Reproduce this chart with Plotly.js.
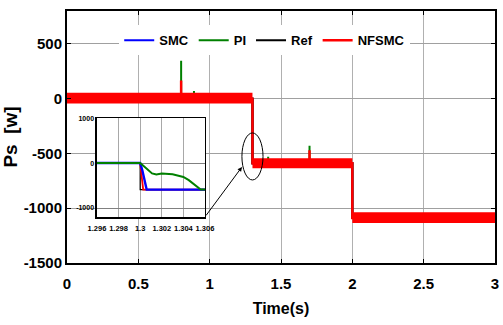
<!DOCTYPE html>
<html><head><meta charset="utf-8">
<script src="https://cdn.plot.ly/plotly-3.0.1.min.js"></script>
<style>html,body{margin:0;padding:0;background:#fff;}#chart{width:503px;height:325px;}</style>
</head><body><div id="chart"></div>
<script>
// ---- main chart data (Time in s, Ps in W) ----
const refT = [0, 1.3, 1.3, 2, 2, 3];
const refP = [0, 0, -590, -590, -1090, -1090];
const smcT = [0, 1.3, 1.3, 2, 2, 3];
const smcP = [0, 0, -590, -590, -1090, -1090];
const piT = [0, 0.8, 0.8, 0.8, 0.89, 0.89, 0.89, 1.3, 1.3, 1.41, 1.41, 1.41, 1.7, 1.7, 1.7, 2, 2, 3];
const piP = [0, 0, 345, 0, 0, 70, 0, 0, -590, -590, -530, -590, -590, -430, -590, -590, -1090, -1090];
const nfT = [0, 0.8, 0.8, 0.8, 1.3, 1.3, 1.7, 1.7, 1.7, 2, 2, 3];
const nfP = [0, 0, 165, 0, 0, -590, -590, -470, -590, -590, -1090, -1090];
// NFSMC ripple envelope
const bandT = [0, 1.3, 1.3, 2, 2, 3];
const bandHi = [55, 55, -545, -545, -1036, -1036];
const bandLo = [-45, -45, -636, -636, -1136, -1136];

// ---- inset (zoom around t = 1.3 s) ----
const insRefT = [1.296, 1.3, 1.3, 1.306];
const insRefP = [0, 0, -590, -590];
const insNfT = [1.296, 1.3, 1.30028, 1.306];
const insNfP = [0, 0, -590, -590];
const insSmcT = [1.296, 1.3, 1.3002, 1.3004, 1.3006, 1.306];
const insSmcP = [0, 0, -160, -390, -590, -590];
const insPiT = [1.296, 1.3, 1.3004, 1.3008, 1.3011, 1.3015, 1.302, 1.303, 1.3035, 1.304, 1.3045, 1.3049, 1.3053, 1.3056, 1.306];
const insPiP = [0, 0, -80, -170, -230, -255, -235, -250, -275, -310, -380, -455, -540, -590, -590];

// ---- tick labels ----
const xTicks = [0, 0.5, 1, 1.5, 2, 2.5, 3];
const xTickText = ['0', '0.5', '1', '1.5', '2', '2.5', '3'];
const yTicks = [-1500, -1000, -500, 0, 500];
const yTickText = ['-1500', '-1000', '-500', '0', '500'];
const insXTicks = [1.296, 1.298, 1.3, 1.302, 1.304, 1.306];
const insXTickText = ['1.296', '1.298', '1.3', '1.302', '1.304', '1.306'];
const insYTicks = [-1000, 0, 1000];
const insYTickText = ['-1000', '0', '1000'];

const seriesNames = ['SMC', 'PI', 'Ref', 'NFSMC'];
const colors = {SMC: '#0000ff', PI: '#008000', Ref: '#000000', NFSMC: '#ff0000'};

const FONT = 'Liberation Sans, Arial, sans-serif';

const data = [
  {x: smcT, y: smcP, name: seriesNames[0], mode: 'lines', line: {color: colors.SMC, width: 2}},
  {x: piT, y: piP, name: seriesNames[1], mode: 'lines', line: {color: colors.PI, width: 2}},
  {x: refT, y: refP, name: seriesNames[2], mode: 'lines', line: {color: colors.Ref, width: 2}},
  {x: bandT, y: bandHi, mode: 'lines', line: {width: 0, color: colors.NFSMC}, showlegend: false, hoverinfo: 'skip'},
  {x: bandT, y: bandLo, mode: 'lines', line: {width: 0, color: colors.NFSMC}, fill: 'tonexty', fillcolor: colors.NFSMC, showlegend: false, hoverinfo: 'skip'},
  {x: nfT, y: nfP, name: seriesNames[3], mode: 'lines', line: {color: colors.NFSMC, width: 2.5}},
  // inset
  {x: insRefT, y: insRefP, xaxis: 'x2', yaxis: 'y2', mode: 'lines', line: {color: colors.Ref, width: 1.2}, showlegend: false},
  {x: insNfT, y: insNfP, xaxis: 'x2', yaxis: 'y2', mode: 'lines', line: {color: colors.NFSMC, width: 1.8}, showlegend: false},
  {x: insSmcT, y: insSmcP, xaxis: 'x2', yaxis: 'y2', mode: 'lines', line: {color: colors.SMC, width: 2.4}, showlegend: false},
  {x: insPiT, y: insPiP, xaxis: 'x2', yaxis: 'y2', mode: 'lines', line: {color: colors.PI, width: 2}, showlegend: false}
];

const tickFont = {family: FONT, size: 15, weight: 'bold', color: '#000'};

const layout = {
  width: 503, height: 325,
  margin: {l: 67, r: 8, t: 11, b: 62},
  paper_bgcolor: '#fff', plot_bgcolor: '#fff',
  showlegend: true,
  legend: {orientation: 'h', x: 0.122, y: 0.884, xanchor: 'left', yanchor: 'middle', bgcolor: '#fff',
           font: {family: FONT, size: 13, weight: 'bold', color: '#000'}, traceorder: 'normal'},
  xaxis: {domain: [0, 1], range: [0, 3], tickvals: xTicks, ticktext: xTickText, ticks: 'inside', ticklen: 4,
          tickcolor: '#000', mirror: 'ticks', showline: true, linecolor: '#000', linewidth: 2,
          showgrid: true, gridcolor: '#b0b0b0', gridwidth: 1, zeroline: false, tickfont: tickFont,
          ticklabelstandoff: 6,
          title: {text: 'Time(s)', font: {family: FONT, size: 16, weight: 'bold', color: '#000'}, standoff: 12}},
  yaxis: {domain: [0, 1], range: [-1500, 800], tickvals: yTicks, ticktext: yTickText, ticks: 'inside', ticklen: 4,
          tickcolor: '#000', mirror: 'ticks', showline: true, linecolor: '#000', linewidth: 2,
          showgrid: true, gridcolor: '#a0a0a0', gridwidth: 1, zeroline: false, tickfont: tickFont,
          title: {text: 'Ps\u00A0\u00A0[w]', font: {family: FONT, size: 19, weight: 'bold', color: '#000'}, standoff: 2}},
  xaxis2: {domain: [0.070, 0.3224], anchor: 'y2', range: [1.296, 1.306], tickvals: insXTicks, ticktext: insXTickText,
           ticks: '', tickangle: 0, showline: true, mirror: true, linecolor: '#000', linewidth: 1.5, showgrid: true,
           gridcolor: '#a8a8a8', gridwidth: 1, zeroline: false,
           tickfont: {family: FONT, size: 7.5, weight: 'bold', color: '#000'}, ticklabelstandoff: 3},
  yaxis2: {domain: [0.1825, 0.575], anchor: 'x2', range: [-1200, 1000], tickvals: insYTicks, ticktext: insYTickText,
           ticks: '', showline: true, mirror: true, linecolor: '#000', linewidth: 1.5, showgrid: true,
           gridcolor: '#808080', gridwidth: 1, zeroline: false,
           tickfont: {family: FONT, size: 7, weight: 'bold', color: '#000'}},
  shapes: [{type: 'circle', xref: 'x', yref: 'y', x0: 1.226, x1: 1.374, y0: -742, y1: -313, line: {color: '#000', width: 1}}],
  annotations: [{x: 1.2266, y: -623, xref: 'x', yref: 'y', ax: -37, ay: 50, showarrow: true, arrowhead: 2,
                 arrowsize: 0.9, arrowwidth: 1, arrowcolor: '#000', text: ''}]
};

Plotly.newPlot('chart', data, layout, {staticPlot: true, displayModeBar: false});
</script></body></html>
